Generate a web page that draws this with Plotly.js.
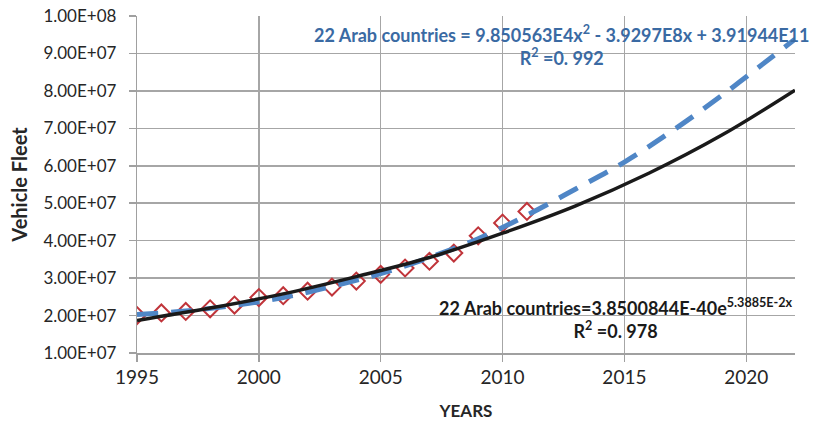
<!DOCTYPE html>
<html>
<head>
<meta charset="utf-8">
<script src="https://cdn.plot.ly/plotly-3.0.1.min.js"></script>
<style>html,body{margin:0;padding:0;background:#fff;}#chart{width:816px;height:422px;}</style>
</head>
<body>
<div id="chart"></div>
<script>
// Observed data (diamonds)
const years = [1995,1996,1997,1998,1999,2000,2001,2002,2003,2004,2005,2006,2007,2008,2009,2010,2011];
const fleet = [2.00e7,2.07e7,2.11e7,2.18e7,2.28e7,2.48e7,2.53e7,2.65e7,2.76e7,2.92e7,3.10e7,3.27e7,3.45e7,3.67e7,4.13e7,4.47e7,4.78e7];

// Polynomial trendline (blue dashed)
const polyYears = [1995,1997,1999,2001,2003,2005,2007,2009,2011,2013,2015,2017,2019,2021,2022];
const polyVals  = [2.03e7,2.12e7,2.27e7,2.48e7,2.78e7,3.12e7,3.55e7,4.05e7,4.68e7,5.38e7,6.10e7,6.95e7,7.88e7,8.88e7,9.38e7];

// Exponential trendline (black)
const expYears = [1995,1998,2001,2004,2007,2010,2013,2016,2019,2022];
const expVals  = [1.87e7,2.20e7,2.58e7,3.04e7,3.55e7,4.20e7,4.93e7,5.80e7,6.82e7,8.02e7];

// Axis ticks
const yTickVals = [1e7,2e7,3e7,4e7,5e7,6e7,7e7,8e7,9e7,1e8];
const yTickText = ["1.00E+07","2.00E+07","3.00E+07","4.00E+07","5.00E+07","6.00E+07","7.00E+07","8.00E+07","9.00E+07","1.00E+08"];
const xTickVals = [1995,2000,2005,2010,2015,2020];

const polyLabel = ["22 Arab countries = 9.850563E4x<sup>2</sup> - 3.9297E8x + 3.91944E11", "R<sup>2</sup> =0. 992"];
const expLabel = ["22 Arab countries=3.8500844E-40e<sup>5.3885E-2x</sup>", "R<sup>2</sup> =0. 978"];

const traces = [
  {x: years, y: fleet, type:'scatter', mode:'markers',
   marker:{symbol:'diamond', size:13, color:'rgba(255,255,255,0)', line:{color:'#c0343a', width:2}}},
  {x: polyYears, y: polyVals, type:'scatter', mode:'lines',
   line:{color:'#4f86c6', width:5, dash:'21px,13px', shape:'spline'}},
  {x: expYears, y: expVals, type:'scatter', mode:'lines',
   line:{color:'#1a1a1a', width:3.5, shape:'spline'}}
];

const font = 'Lato, "Open Sans", sans-serif';
const pad = '\u00a0\u00a0';
const layout = {
  width:816, height:422,
  margin:{l:137, r:21, t:16, b:69},
  paper_bgcolor:'#fff', plot_bgcolor:'#fff',
  showlegend:false,
  font:{family:font, color:'#262626', size:16},
  xaxis:{range:[1995,2022], tickvals:xTickVals, ticks:'outside', ticklen:7, tickcolor:'#a0a0a0', tickwidth:1.5,
    showgrid:true, gridcolor:'#a6a6a6', gridwidth:1.5, showline:true, linecolor:'#a0a0a0', linewidth:1.5,
    zeroline:false, tickfont:{size:19, family:font, color:'#262626'},
    title:{text:'<b>YEARS</b>', font:{size:17, family:font, color:'#262626'}, standoff:18}},
  yaxis:{range:[1e7,1e8], tickvals:yTickVals, ticktext:yTickText.map(t => t + pad), ticks:'outside', ticklen:7, tickcolor:'#a0a0a0', tickwidth:1.5,
    showgrid:true, gridcolor:'#a6a6a6', gridwidth:1.5, showline:true, linecolor:'#a0a0a0', linewidth:1.5,
    zeroline:false, tickfont:{size:17, family:font, color:'#262626'},
    title:{text:'<b>Vehicle Fleet</b>', font:{size:20, family:font, color:'#262626'}, standoff:10}},
  annotations:[
    {text:'<b>'+polyLabel[0]+'</b><br><b>'+polyLabel[1]+'</b>', xref:'paper', yref:'paper', x:(562-137)/658, y:(353-46)/337, xanchor:'center', yanchor:'middle',
     showarrow:false, align:'center', font:{size:18, family:font, color:'#3a6aa3'}},
    {text:'<b>'+expLabel[0]+'</b><br><b>'+expLabel[1]+'</b>', xref:'paper', yref:'paper', x:(616-137)/658, y:(353-318)/337, xanchor:'center', yanchor:'middle',
     showarrow:false, align:'center', font:{size:18, family:font, color:'#1a1a1a'}}
  ]
};

Plotly.newPlot('chart', traces, layout, {displayModeBar:false, staticPlot:true});
</script>
</body>
</html>
